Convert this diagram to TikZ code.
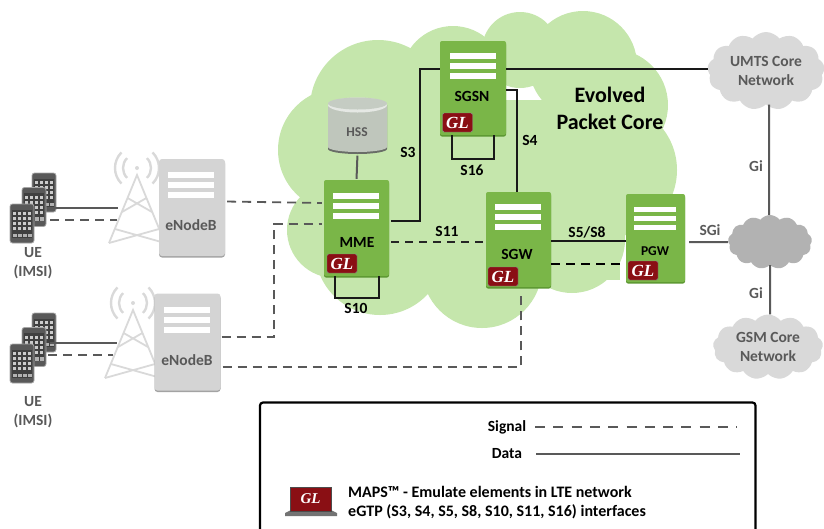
\documentclass[tikz,border=0pt]{standalone}
\usepackage{fontspec}
\setmainfont{Carlito}
\newfontfamily\glfont{Liberation Serif}
\usetikzlibrary{shapes.symbols,shadows}
\definecolor{epcgreen}{HTML}{C5E6AC}
\definecolor{boxgreen}{HTML}{7AB648}
\definecolor{boxedge}{HTML}{5B9630}
\definecolor{glred}{HTML}{8A0F14}
\definecolor{enbgray}{HTML}{D4D4D4}
\definecolor{enbedge}{HTML}{A3A3A3}
\definecolor{towergray}{HTML}{D9D9D9}
\definecolor{cloudgray}{HTML}{D9D9D9}
\definecolor{linegray}{HTML}{595959}
\definecolor{textgray}{HTML}{595959}
\definecolor{hssgray}{HTML}{BFC6BC}
\tikzset{
  lbl/.style={font=\bfseries\fontsize{15.5}{19}\selectfont, inner sep=0pt, align=center},
  graylbl/.style={lbl, text=textgray},
  greenbox/.style={rectangle, rounded corners=2pt, fill=boxgreen, inner sep=0pt,
    general shadow={fill=boxedge, shadow yshift=-1.5pt}},
  enbbox/.style={rectangle, rounded corners=3pt, fill=enbgray, inner sep=0pt,
    minimum width=66pt, minimum height=97pt,
    general shadow={fill=enbedge, shadow yshift=-1.5pt}},
  srvbar/.style={rectangle, fill=white, inner sep=0pt, minimum width=46pt, minimum height=6pt},
  glbadge/.style={rectangle, rounded corners=1.5pt, fill=glred, draw=black!45, line width=.4pt,
    inner sep=0pt, minimum width=30pt, minimum height=19pt, text=white,
    font=\glfont\bfseries\itshape\fontsize{17}{17}\selectfont},
  graycloud/.style={cloud, cloud puffs=13, cloud puff arc=105, cloud ignores aspect, fill=cloudgray, inner sep=0pt,
    text=textgray, align=center, font=\bfseries\fontsize{15.5}{19}\selectfont},
  signal/.style={draw=linegray, line width=1.8pt, dash pattern=on 9pt off 6pt},
  signalk/.style={draw=black!85, line width=1.6pt, dash pattern=on 8pt off 6pt},
  datak/.style={draw=black!90, line width=1.6pt},
  datag/.style={draw=linegray, line width=2pt},
}
\begin{document}
\begin{tikzpicture}[x=1pt,y=-1pt]
\useasboundingbox (0,0) rectangle (824,528);
% core cloud
\foreach \x/\y/\r in {340/150/62,335/230/48,378/108/68,453/78/52,520/50/38,583/65/54,612/105/56,
  610/170/67,572/240/53,482/268/60,380/250/65}
  \fill[epcgreen] (\x,\y) circle[radius=\r pt];
\fill[epcgreen] (340,100) rectangle (620,280);
% towers
\foreach \x/\y [count=\i] in {137/175,133/310}{
  \begin{scope}[shift={(\x,\y)}, draw=towergray, line width=1.8pt]
    \draw (-28,68) -- (0,0) -- (28,68);
    \draw (-9.4,23) -- (15,37) (9.4,23) -- (-15,37);
    \draw (-22,54) -- (28,68) (22,54) -- (-28,68);
    \fill[towergray] (0,-7) circle[radius=2pt];
    \foreach \r in {14,22}{
      \draw[line width=2.4pt] (0,-7) ++(135:\r pt) arc[start angle=135, end angle=225, radius=\r pt];
      \draw[line width=2.4pt] (0,-7) ++(-45:\r pt) arc[start angle=-45, end angle=45, radius=\r pt];
    }
  \end{scope}
}
% enodeb
\node[enbbox] (enb1) at (192,207.5) {};
\node[enbbox] (enb2) at (187.5,342) {};
\node[graylbl] (enb1lbl) at (191,225) {eNodeB};
\node[graylbl] (enb2lbl) at (187,360) {eNodeB};
% epc elements
\node[greenbox, minimum width=65pt, minimum height=96pt] (mme) at (356.5,228) {};
\node[greenbox, minimum width=66pt, minimum height=94pt] (sgsn) at (473,88) {};
\node[greenbox, minimum width=65pt, minimum height=95pt] (sgw) at (518.5,239.5) {};
\node[greenbox, minimum width=59pt, minimum height=88pt] (pgw) at (655.5,238) {};
\foreach \x/\y [count=\i] in {356/196,472.7/56,518/207,191/175,187/310}{
  \foreach \d in {0,10,20}
    \node[srvbar] (bar\i-\d) at (\x,\y+\d) {};
}
\foreach \y in {209,218,227}
  \node[srvbar, minimum width=42pt, minimum height=5pt] (pgwbar\y) at (655,\y) {};
\node[lbl] (mmelbl) at (357,242) {MME};
\node[lbl] (sgsnlbl) at (472,96) {SGSN};
\node[lbl] (sgwlbl) at (517,254) {SGW};
\node[lbl, font=\bfseries\fontsize{13.5}{15}\selectfont] (pgwlbl) at (655,251) {PGW};
\node[glbadge] (glmme) at (342,263.5) {GL};
\node[glbadge] (glsgsn) at (457.5,122.5) {GL};
\node[glbadge] (glsgw) at (503,276.5) {GL};
\node[glbadge] (glpgw) at (643,270.5) {GL};
% database
\fill[black!45!hssgray] (328,105) -- (328,149) arc[start angle=180, end angle=360, x radius=29.5pt, y radius=5pt] -- (387,105) -- cycle;
\fill[hssgray] (328,105) -- (328,147) arc[start angle=180, end angle=360, x radius=29.5pt, y radius=5pt] -- (387,105) -- cycle;
\fill[white!60!hssgray] (357.5,105) ellipse[x radius=29.5pt, y radius=7.5pt];
\fill[hssgray!90!white] (357.5,103.5) ellipse[x radius=29.5pt, y radius=6pt];
\node[rectangle, inner sep=0pt, minimum width=59pt, minimum height=56pt] (hss) at (357.5,125.5) {};
\node[graylbl, font=\bfseries\fontsize{13.5}{15}\selectfont] (hsslbl) at (357,132) {HSS};
% other networks
\node[graycloud, minimum width=117pt, minimum height=78pt] (umts) at (766,71) {UMTS Core\\Network};
\node[graycloud, minimum width=84pt, minimum height=54pt, fill=black!30] (gicloud) at (770,242) {};
\node[graycloud, minimum width=110pt, minimum height=65pt] (gsm) at (768,347) {GSM Core\\Network};
% phones
\foreach \g/\o in {1/0,2/140}{
  \foreach \x/\y [count=\j] in {44/192.5,34/207,22/223.5}{
    \node[rectangle, rounded corners=2.5pt, fill=black!65, draw=black!35, line width=.8pt, inner sep=0pt,
      minimum width=24pt, minimum height=39pt] (phone\g-\j) at (\x,\y+\o) {};
    \fill[black!75] (\x-10,\y+\o-14) rectangle (\x+10,\y+\o+14);
    \foreach \c in {-7.5,-2.5,2.5,7.5}{
      \foreach \r in {-10,-5,0,5}
        \fill[black!20] (\c+\x-1.5,\r+\y+\o-1.5) rectangle (\c+\x+1.5,\r+\y+\o+1.5);
      \fill[black!30] (\c+\x-2,\y+\o+10) rectangle (\c+\x+2,\y+\o+13.5);
    }
  }
}
\node[graylbl] (ue1lbl) at (33,263.5) {UE\\(IMSI)};
\node[graylbl] (ue2lbl) at (33,412.5) {UE\\(IMSI)};
\coordinate (ue1d) at (50,208);
\coordinate (ue1s) at (50,220);
\coordinate (ue2d) at (50,343);
\coordinate (ue2s) at (48,355);
\coordinate (ant1d) at (118,208);
\coordinate (ant1s) at (117,220);
\coordinate (ant2d) at (117,343);
\coordinate (ant2s) at (113,355);
\coordinate (sigbend) at (274,224);
\coordinate (s3bend) at (420,69);
\coordinate (s4bend) at (517,90);
% connectors
\draw[datag, line width=1.7pt] (ue1d) -- (ant1d);
\draw[datag, line width=1.7pt] (ue2d) -- (ant2d);
\draw[signal] (ue1s) -- (ant1s);
\draw[signal] (ue2s) -- (ant2s);
\draw[signal, shorten <=2pt, shorten >=2pt] ([yshift=6pt]enb1.east) -- ([yshift=25pt]mme.west);
\draw[signal, shorten <=1pt, shorten >=2pt] ([yshift=5pt]enb2.east) -| (sigbend) -- ([yshift=4pt]mme.west);
\draw[signal, shorten <=2pt, shorten >=8pt] ([yshift=-25pt]enb2.east) -| ([xshift=2.5pt]sgw.south);
\draw[signalk, shorten <=2pt] ([yshift=-14pt]mme.east) -- ([yshift=-2.5pt]sgw.west);
\draw[datak, shorten <=2pt] ([yshift=7pt]mme.east) -| (s3bend) -- ([yshift=19pt]sgsn.west);
\draw[datak] ([yshift=19pt]sgsn.east) -- ([yshift=2pt]umts.west);
\draw[datak] ([yshift=-2pt]sgsn.east) -- (s4bend) -- ([xshift=-1.5pt]sgw.north);
\draw[datak] ([xshift=-21pt]sgsn.south) |- (472,159) -| ([xshift=21pt]sgsn.south);
\draw[datak] ([xshift=-21.5pt]mme.south) |- (357,298) -| ([xshift=22.5pt]mme.south);
\draw[datak] ([yshift=-1.5pt]sgw.east) -- ([yshift=-3pt]pgw.west);
\draw[draw=black, line width=2.4pt, dash pattern=on 9pt off 6pt] ([yshift=-24.5pt]sgw.east) -- ([yshift=-26pt]pgw.west);
\draw[datag, shorten <=2pt, shorten >=1pt] (hss.south) -- (mme.north);
\draw[datag, shorten <=4pt] ([yshift=-4pt]pgw.east) -- (gicloud.west);
\draw[datag] ([xshift=3pt]umts.south) -- ([xshift=-1pt]gicloud.north);
\draw[datag] (gicloud.south) -- ([xshift=2pt]gsm.north);
% labels
\node[lbl] (s3lbl) at (408,152) {S3};
\node[lbl] (s4lbl) at (530,140) {S4};
\node[lbl] (s16lbl) at (472,170) {S16};
\node[lbl] (s10lbl) at (356,308) {S10};
\node[lbl] (s11lbl) at (447,231) {S11};
\node[lbl] (s58lbl) at (587,232) {S5/S8};
\node[graylbl] (sgilbl) at (710,230) {SGi};
\node[graylbl] (gi1lbl) at (756,166) {Gi};
\node[graylbl] (gi2lbl) at (756,293) {Gi};
\node[lbl, font=\bfseries\fontsize{22}{27}\selectfont] (epclbl) at (610,108.5) {Evolved\\Packet Core};
% legend
\draw[black, line width=2.2pt, rounded corners=3pt] (260,529) -- (260,402.5) -- (755.5,402.5) -- (755.5,529);
\node[lbl] (siglbl) at (507,427) {Signal};
\node[lbl] (datalbl) at (507,454) {Data};
\coordinate (sigstart) at (535,427);
\coordinate (sigend) at (737,427);
\coordinate (datastart) at (536,454);
\coordinate (dataend) at (740,454);
\draw[draw=linegray, line width=1.5pt, dash pattern=on 10pt off 8.3pt] (sigstart) -- (sigend);
\draw[datag] (datastart) -- (dataend);
\fill[black!55] (285,513) -- (291,510) -- (331,510) -- (337,513) -- (337,516) -- (285,516) -- cycle;
\node[rectangle, fill=glred, draw=black!70, line width=1pt, inner sep=0pt, minimum width=41pt, minimum height=24pt,
  text=white, font=\glfont\bfseries\itshape\fontsize{15}{15}\selectfont] (laptop) at (310.5,499) {GL};
\node[lbl, anchor=west, align=left, font=\bfseries\fontsize{16}{19}\selectfont] (mapslbl) at (348,502.5)
  {MAPS™ - Emulate elements in LTE network\\eGTP (S3, S4, S5, S8, S10, S11, S16) interfaces};
\end{tikzpicture}
\end{document}
